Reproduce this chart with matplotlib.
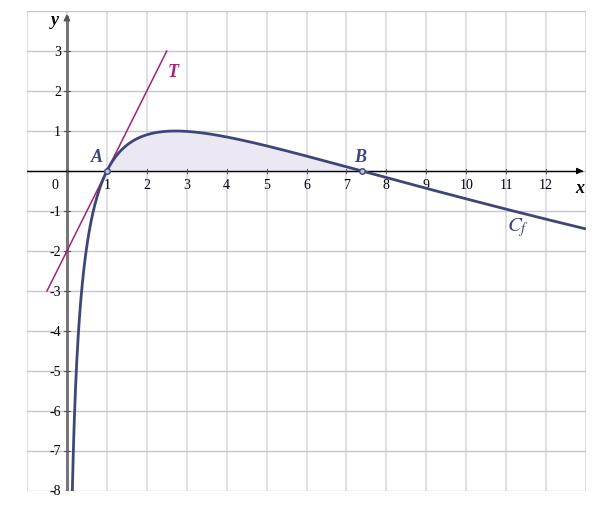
import numpy as np
import matplotlib.pyplot as plt

# f(x) = ln(x) * (2 - ln(x)), tangent at A : y = 2x - 2
x_ticks = [0, 1, 2, 3, 4, 5, 6, 7, 8, 9, 10, 11, 12]
y_ticks = [-8, -7, -6, -5, -4, -3, -2, -1, 1, 2, 3]
point_a = (1, 0)
point_b = (np.e ** 2, 0)
tangent_x = [-0.5, 2.5]
tangent_y = [-3, 3]

curve_col = "#3d4677"
tan_col = "#a3236f"
serif = "Liberation Serif"

fig = plt.figure(figsize=(6.12, 5.06), dpi=100)
ax = fig.add_axes([27 / 612, 14 / 506, 559 / 612, 480 / 506])
ax.set_xlim(-1, 13)
ax.set_ylim(-8, 4)
for s in ax.spines.values():
    s.set_visible(False)
ax.set_xticks([])
ax.set_yticks([])

for gx in range(-1, 14):
    ax.axvline(gx, color="#dcdce8", lw=1.3, zorder=0)
for gy in range(-8, 5):
    ax.axhline(gy, color="#c4c4da", lw=1.0, zorder=0)

# axes
ax.plot([0, 0], [-8, 3.85], color="#777777", lw=2.2, zorder=2)
ax.annotate("", xy=(0, 4.0), xytext=(0, 3.7),
            arrowprops=dict(arrowstyle="-|>", color="#555555", lw=1.2, mutation_scale=9))
ax.plot([-1, 12.9], [0, 0], color="black", lw=1.0, zorder=2)
ax.annotate("", xy=(13.0, 0), xytext=(12.7, 0),
            arrowprops=dict(arrowstyle="-|>", color="black", lw=1.0, mutation_scale=9))

tick_font = dict(family=serif, fontsize=10)
for t in x_ticks:
    ax.plot([t, t], [-0.05, 0.05], color="#555555", lw=0.8, zorder=3)
    if t == 0:
        ax.text(-0.3, -0.18, "0", ha="center", va="top", **tick_font)
    else:
        ax.text(t, -0.18, str(t), ha="center", va="top", **tick_font)
for t in y_ticks:
    ax.plot([-0.07, 0.07], [t, t], color="#555555", lw=0.8, zorder=3)
    ax.text(-0.15, t, str(t), ha="right", va="center", **tick_font)

# curve
xs = np.linspace(0.13, 13, 3000)
ys = np.log(xs) * (2 - np.log(xs))
mask = ys >= -8.1
ax.plot(xs[mask], ys[mask], color=curve_col, lw=2, zorder=4, solid_capstyle="butt")

xf = np.linspace(point_a[0], point_b[0], 300)
yf = np.log(xf) * (2 - np.log(xf))
ax.fill_between(xf, 0, yf, color="#ebe8f4", zorder=1)

ax.plot(tangent_x, tangent_y, color=tan_col, lw=1.1, zorder=3)

for p in (point_a, point_b):
    ax.plot(*p, "o", ms=4, mfc="#b8c0e8", mec=curve_col, mew=1, zorder=5)

lab = dict(family=serif, style="italic", weight="bold", fontsize=13)
ax.text(0.75, 0.15, "A", color=curve_col, ha="center", va="bottom", **lab)
ax.text(7.35, 0.15, "B", color=curve_col, ha="center", va="bottom", **lab)
ax.text(2.65, 2.5, "T", color=tan_col, ha="center", va="center", **lab)
ax.text(11.3, -1.4, "$C_f$", color=curve_col, ha="center", va="center",
        fontsize=15, math_fontfamily="stix")
ax.text(-0.3, 4.0, "y", ha="center", va="top", **lab)
ax.text(12.85, -0.2, "x", ha="center", va="top", **lab)

fig.savefig("out.png", dpi=100)
